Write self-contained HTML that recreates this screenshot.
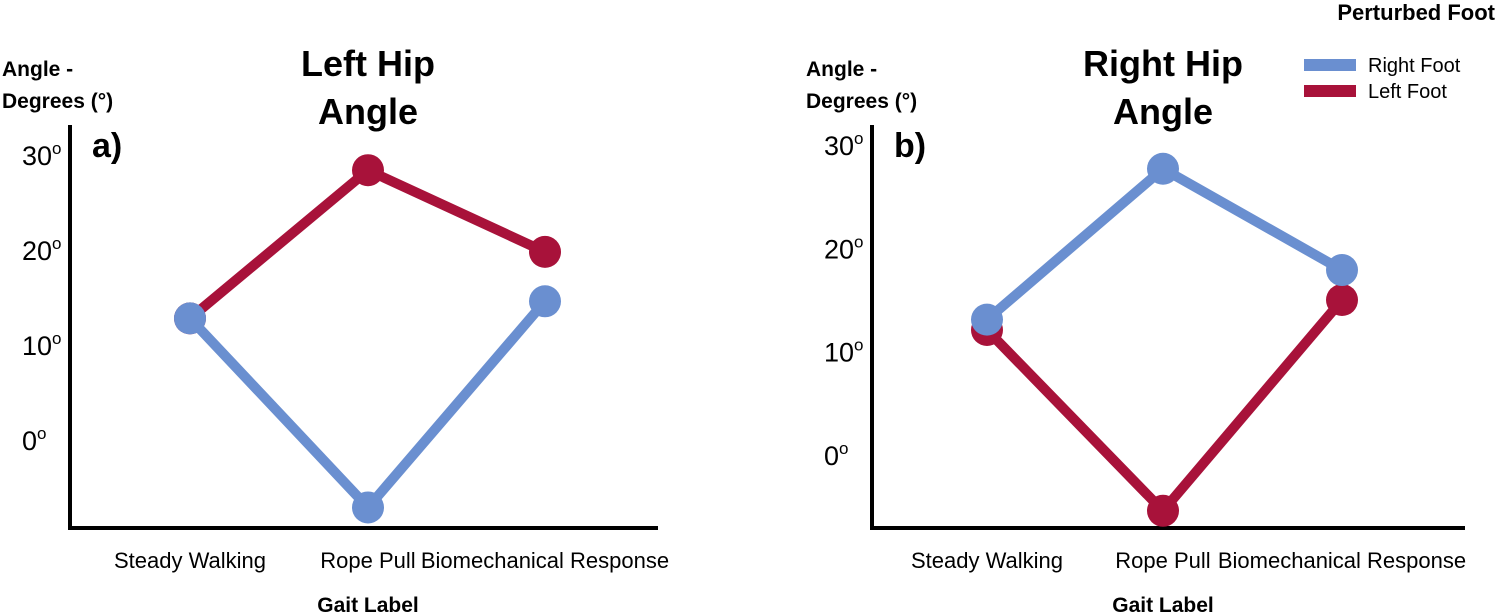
<!DOCTYPE html>
<html><head><meta charset="utf-8"><style>
body{margin:0;background:#fff;}
svg{display:block;font-family:"Liberation Sans",sans-serif;}
</style></head><body>
<svg id="c" width="1500" height="616" viewBox="0 0 1500 616"></svg>
<script>
const categories=["Steady Walking","Rope Pull","Biomechanical Response"];
const yTicks=[0,10,20,30];
const leftRight=[12.8,-7.1,14.6];
const leftLeft=[12.8,28.4,19.8];
const rightRight=[13.1,27.7,17.9];
const rightLeft=[12.1,-5.4,15.0];
const BLUE="#6a8fd0", RED="#a8123a";
const svg=document.getElementById('c');
const NS="http://www.w3.org/2000/svg";
function mk(tag,attrs,parent,text){const e=document.createElementNS(NS,tag);for(const k in attrs)e.setAttribute(k,attrs[k]);if(text!==undefined)e.textContent=text;(parent||svg).appendChild(e);return e;}
function panel(cfg){
  const g=mk('g',{});
  
  
  const y=v=>cfg.y0+(cfg.y30-cfg.y0)*v/30;
  const x=i=>cfg.xs[i];
  const ax=mk('path',{d:`M${cfg.ax} ${cfg.top} V${cfg.base} H${cfg.axEnd}`,stroke:'#000','stroke-width':4,fill:'none'},g);
  
  
  yTicks.forEach(t=>{
    const tx=mk('text',{x:cfg.ax-48,y:y(t)+10,'font-size':27,'text-anchor':'start'},g);
    
    
    tx.textContent=t+"";
    mk('tspan',{dy:-11,'font-size':17},tx,'o');
  });
  categories.forEach((c,i)=>{
    const t=mk('text',{x:x(i),y:568,'font-size':22,'text-anchor':'middle'},g,c);
    
    
  });
  const xt=mk('text',{x:x(1),y:612,'font-size':21,'font-weight':'bold','text-anchor':'middle'},g,'Gait Label');
  
  
  [['Angle -',76],['Degrees (°)',108]].forEach(([s,yy])=>{
    const t=mk('text',{x:cfg.ylx,y:yy,'font-size':21,'font-weight':'bold'},g,s);
    
    
  });
  cfg.title.forEach((s,i)=>{
    const t=mk('text',{x:x(1),y:76+i*48,'font-size':36,'font-weight':'bold','text-anchor':'middle'},g,s);
    
    
  });
  const pl=mk('text',{x:cfg.ax+22,y:157,'font-size':34,'font-weight':'bold'},g,cfg.letter);
  
  
  cfg.series.forEach(([vals,col,nm])=>{
    const p=mk('polyline',{points:vals.map((v,i)=>x(i)+','+y(v)).join(' '),stroke:col,'stroke-width':10,fill:'none','stroke-linejoin':'round'},g);
    
    
    vals.forEach((v,i)=>{
      const c=mk('circle',{cx:x(i),cy:y(v),r:16,fill:col},g);
      
      
    });
  });
}
panel({name:'left-hip-chart',ax:70,axEnd:658,top:125,base:528,y0:440,y30:155,xs:[190,368,545],ylx:2,title:['Left Hip','Angle'],letter:'a)',
  series:[[leftLeft,RED,'left-foot'],[leftRight,BLUE,'right-foot']]});
panel({name:'right-hip-chart',ax:872,axEnd:1465,top:125,base:528,y0:455,y30:145,xs:[987,1163,1342],ylx:806,title:['Right Hip','Angle'],letter:'b)',
  series:[[rightLeft,RED,'left-foot'],[rightRight,BLUE,'right-foot']]});
const lg=mk('g',{});


const lt=mk('text',{x:1495,y:20,'font-size':22,'font-weight':'bold','text-anchor':'end'},lg,'Perturbed Foot');


[['Right Foot',BLUE,65],['Left Foot',RED,91]].forEach(([s,col,yy])=>{
  const l=mk('line',{x1:1304,x2:1356,y1:yy,y2:yy,stroke:col,'stroke-width':12},lg);
  
  
  const t=mk('text',{x:1368,y:yy+7,'font-size':20},lg,s);
  
  
});
</script>
</body></html>
